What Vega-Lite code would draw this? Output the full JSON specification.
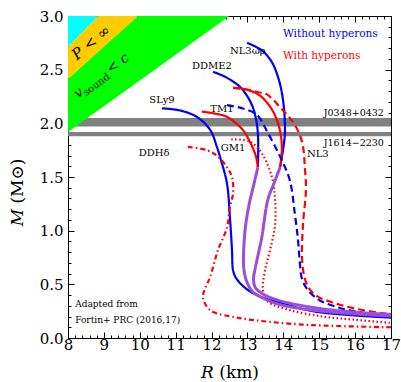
{
  "$schema": "https://vega.github.io/schema/vega-lite/v6.json",
  "width": 323,
  "height": 322,
  "autosize": {"type": "none"},
  "padding": {"left": 68, "top": 16, "right": 10, "bottom": 44},
  "background": "white",
  "config": {
    "font": "DejaVu Serif",
    "view": {"stroke": "black", "strokeWidth": 1},
    "axis": {"domainColor": "black", "tickColor": "black", "labelColor": "black", "titleColor": "black", "labelFont": "DejaVu Serif", "titleFont": "DejaVu Serif", "labelFontSize": 15, "titleFontSize": 17, "titleFontWeight": "normal", "grid": false, "labelOverlap": false, "labelFlush": false, "tickWidth": 1, "domainWidth": 1}
  },
  "resolve": {"axis": {"x": "independent", "y": "independent"}},
  "datasets": {
    "bands": [
      {"pulsar": "J0348+0432", "lo": 1.97, "hi": 2.05},
      {"pulsar": "J1614−2230", "lo": 1.88, "hi": 1.92}
    ],
    "limits": [
      {"region": "GR", "R": 8, "lo": 2.712, "hi": 3},
      {"region": "GR", "R": 8.85, "lo": 3, "hi": 3},
      {"region": "P", "R": 8, "lo": 2.412, "hi": 2.712},
      {"region": "P", "R": 8.85, "lo": 2.668, "hi": 3},
      {"region": "P", "R": 9.95, "lo": 3, "hi": 3},
      {"region": "causal", "R": 8, "lo": 1.92, "hi": 2.412},
      {"region": "causal", "R": 9.95, "lo": 2.388, "hi": 3},
      {"region": "causal", "R": 12.5, "lo": 3, "hi": 3}
    ],
    "curves": [
      {"curve": "SLy9", "eos": "SLy9", "type": "nucleonic", "i": 0, "R": 10.62, "M": 2.14},
      {"curve": "SLy9", "eos": "SLy9", "type": "nucleonic", "i": 1, "R": 11.12, "M": 2.12},
      {"curve": "SLy9", "eos": "SLy9", "type": "nucleonic", "i": 2, "R": 11.59, "M": 2.06},
      {"curve": "SLy9", "eos": "SLy9", "type": "nucleonic", "i": 3, "R": 11.96, "M": 1.94},
      {"curve": "SLy9", "eos": "SLy9", "type": "nucleonic", "i": 4, "R": 12.15, "M": 1.78},
      {"curve": "SLy9", "eos": "SLy9", "type": "nucleonic", "i": 5, "R": 12.26, "M": 1.66},
      {"curve": "SLy9", "eos": "SLy9", "type": "nucleonic", "i": 6, "R": 12.43, "M": 1.44},
      {"curve": "SLy9", "eos": "SLy9", "type": "nucleonic", "i": 7, "R": 12.51, "M": 1.13},
      {"curve": "SLy9", "eos": "SLy9", "type": "nucleonic", "i": 8, "R": 12.57, "M": 0.82},
      {"curve": "SLy9", "eos": "SLy9", "type": "nucleonic", "i": 9, "R": 12.6, "M": 0.63},
      {"curve": "SLy9", "eos": "SLy9", "type": "nucleonic", "i": 10, "R": 12.7, "M": 0.55},
      {"curve": "SLy9", "eos": "SLy9", "type": "nucleonic", "i": 11, "R": 13.0, "M": 0.45},
      {"curve": "SLy9", "eos": "SLy9", "type": "nucleonic", "i": 12, "R": 13.4, "M": 0.38},
      {"curve": "SLy9", "eos": "SLy9", "type": "nucleonic", "i": 13, "R": 13.91, "M": 0.33},
      {"curve": "SLy9", "eos": "SLy9", "type": "nucleonic", "i": 14, "R": 14.82, "M": 0.25},
      {"curve": "SLy9", "eos": "SLy9", "type": "nucleonic", "i": 15, "R": 16.0, "M": 0.21},
      {"curve": "SLy9", "eos": "SLy9", "type": "nucleonic", "i": 16, "R": 17.0, "M": 0.19},

      {"curve": "DDME2", "eos": "DDME2", "type": "nucleonic", "i": 0, "R": 12.04, "M": 2.48},
      {"curve": "DDME2", "eos": "DDME2", "type": "nucleonic", "i": 1, "R": 12.4, "M": 2.43},
      {"curve": "DDME2", "eos": "DDME2", "type": "nucleonic", "i": 2, "R": 12.79, "M": 2.34},
      {"curve": "DDME2", "eos": "DDME2", "type": "nucleonic", "i": 3, "R": 13.0, "M": 2.25},
      {"curve": "DDME2", "eos": "DDME2", "type": "nucleonic", "i": 4, "R": 13.15, "M": 2.15},
      {"curve": "DDME2", "eos": "DDME2", "type": "nucleonic", "i": 5, "R": 13.25, "M": 2.02},
      {"curve": "DDME2", "eos": "DDME2", "type": "nucleonic", "i": 6, "R": 13.29, "M": 1.91},
      {"curve": "DDME2", "eos": "DDME2", "type": "nucleonic", "i": 7, "R": 13.3, "M": 1.75},
      {"curve": "DDME2", "eos": "DDME2", "type": "nucleonic", "i": 8, "R": 13.29, "M": 1.59},

      {"curve": "DDME2Y", "eos": "DDME2", "type": "hyperonic", "i": 0, "R": 11.73, "M": 2.11},
      {"curve": "DDME2Y", "eos": "DDME2", "type": "hyperonic", "i": 1, "R": 12.1, "M": 2.09},
      {"curve": "DDME2Y", "eos": "DDME2", "type": "hyperonic", "i": 2, "R": 12.43, "M": 2.06},
      {"curve": "DDME2Y", "eos": "DDME2", "type": "hyperonic", "i": 3, "R": 12.87, "M": 1.94},
      {"curve": "DDME2Y", "eos": "DDME2", "type": "hyperonic", "i": 4, "R": 13.05, "M": 1.84},
      {"curve": "DDME2Y", "eos": "DDME2", "type": "hyperonic", "i": 5, "R": 13.21, "M": 1.72},
      {"curve": "DDME2Y", "eos": "DDME2", "type": "hyperonic", "i": 6, "R": 13.27, "M": 1.64},
      {"curve": "DDME2Y", "eos": "DDME2", "type": "hyperonic", "i": 7, "R": 13.29, "M": 1.59},

      {"curve": "DDME2 both", "eos": "DDME2", "type": "both", "i": 0, "R": 13.29, "M": 1.59},
      {"curve": "DDME2 both", "eos": "DDME2", "type": "both", "i": 1, "R": 13.17, "M": 1.42},
      {"curve": "DDME2 both", "eos": "DDME2", "type": "both", "i": 2, "R": 13.05, "M": 1.25},
      {"curve": "DDME2 both", "eos": "DDME2", "type": "both", "i": 3, "R": 12.95, "M": 1.05},
      {"curve": "DDME2 both", "eos": "DDME2", "type": "both", "i": 4, "R": 12.9, "M": 0.85},
      {"curve": "DDME2 both", "eos": "DDME2", "type": "both", "i": 5, "R": 12.89, "M": 0.7},
      {"curve": "DDME2 both", "eos": "DDME2", "type": "both", "i": 6, "R": 12.92, "M": 0.6},
      {"curve": "DDME2 both", "eos": "DDME2", "type": "both", "i": 7, "R": 13.0, "M": 0.51},
      {"curve": "DDME2 both", "eos": "DDME2", "type": "both", "i": 8, "R": 13.15, "M": 0.43},
      {"curve": "DDME2 both", "eos": "DDME2", "type": "both", "i": 9, "R": 13.45, "M": 0.37},
      {"curve": "DDME2 both", "eos": "DDME2", "type": "both", "i": 10, "R": 13.91, "M": 0.31},
      {"curve": "DDME2 both", "eos": "DDME2", "type": "both", "i": 11, "R": 14.82, "M": 0.26},
      {"curve": "DDME2 both", "eos": "DDME2", "type": "both", "i": 12, "R": 16.0, "M": 0.225},
      {"curve": "DDME2 both", "eos": "DDME2", "type": "both", "i": 13, "R": 17.0, "M": 0.205},

      {"curve": "NL3ωρ", "eos": "NL3ωρ", "type": "nucleonic", "i": 0, "R": 12.99, "M": 2.75},
      {"curve": "NL3ωρ", "eos": "NL3ωρ", "type": "nucleonic", "i": 1, "R": 13.4, "M": 2.68},
      {"curve": "NL3ωρ", "eos": "NL3ωρ", "type": "nucleonic", "i": 2, "R": 13.68, "M": 2.57},
      {"curve": "NL3ωρ", "eos": "NL3ωρ", "type": "nucleonic", "i": 3, "R": 13.88, "M": 2.4},
      {"curve": "NL3ωρ", "eos": "NL3ωρ", "type": "nucleonic", "i": 4, "R": 13.99, "M": 2.22},
      {"curve": "NL3ωρ", "eos": "NL3ωρ", "type": "nucleonic", "i": 5, "R": 14.04, "M": 2.03},
      {"curve": "NL3ωρ", "eos": "NL3ωρ", "type": "nucleonic", "i": 6, "R": 14.04, "M": 1.89},
      {"curve": "NL3ωρ", "eos": "NL3ωρ", "type": "nucleonic", "i": 7, "R": 13.99, "M": 1.75},
      {"curve": "NL3ωρ", "eos": "NL3ωρ", "type": "nucleonic", "i": 8, "R": 13.91, "M": 1.59},

      {"curve": "NL3ωρY", "eos": "NL3ωρ", "type": "hyperonic", "i": 0, "R": 12.6, "M": 2.33},
      {"curve": "NL3ωρY", "eos": "NL3ωρ", "type": "hyperonic", "i": 1, "R": 12.9, "M": 2.32},
      {"curve": "NL3ωρY", "eos": "NL3ωρ", "type": "hyperonic", "i": 2, "R": 13.3, "M": 2.27},
      {"curve": "NL3ωρY", "eos": "NL3ωρ", "type": "hyperonic", "i": 3, "R": 13.6, "M": 2.17},
      {"curve": "NL3ωρY", "eos": "NL3ωρ", "type": "hyperonic", "i": 4, "R": 13.8, "M": 2.05},
      {"curve": "NL3ωρY", "eos": "NL3ωρ", "type": "hyperonic", "i": 5, "R": 13.92, "M": 1.91},
      {"curve": "NL3ωρY", "eos": "NL3ωρ", "type": "hyperonic", "i": 6, "R": 13.96, "M": 1.76},
      {"curve": "NL3ωρY", "eos": "NL3ωρ", "type": "hyperonic", "i": 7, "R": 13.91, "M": 1.59},

      {"curve": "NL3ωρ both", "eos": "NL3ωρ", "type": "both", "i": 0, "R": 13.91, "M": 1.59},
      {"curve": "NL3ωρ both", "eos": "NL3ωρ", "type": "both", "i": 1, "R": 13.75, "M": 1.45},
      {"curve": "NL3ωρ both", "eos": "NL3ωρ", "type": "both", "i": 2, "R": 13.57, "M": 1.29},
      {"curve": "NL3ωρ both", "eos": "NL3ωρ", "type": "both", "i": 3, "R": 13.4, "M": 0.94},
      {"curve": "NL3ωρ both", "eos": "NL3ωρ", "type": "both", "i": 4, "R": 13.28, "M": 0.75},
      {"curve": "NL3ωρ both", "eos": "NL3ωρ", "type": "both", "i": 5, "R": 13.21, "M": 0.64},
      {"curve": "NL3ωρ both", "eos": "NL3ωρ", "type": "both", "i": 6, "R": 13.17, "M": 0.55},
      {"curve": "NL3ωρ both", "eos": "NL3ωρ", "type": "both", "i": 7, "R": 13.22, "M": 0.47},
      {"curve": "NL3ωρ both", "eos": "NL3ωρ", "type": "both", "i": 8, "R": 13.43, "M": 0.41},
      {"curve": "NL3ωρ both", "eos": "NL3ωρ", "type": "both", "i": 9, "R": 13.7, "M": 0.37},
      {"curve": "NL3ωρ both", "eos": "NL3ωρ", "type": "both", "i": 10, "R": 14.1, "M": 0.33},
      {"curve": "NL3ωρ both", "eos": "NL3ωρ", "type": "both", "i": 11, "R": 15.02, "M": 0.275},
      {"curve": "NL3ωρ both", "eos": "NL3ωρ", "type": "both", "i": 12, "R": 16.0, "M": 0.24},
      {"curve": "NL3ωρ both", "eos": "NL3ωρ", "type": "both", "i": 13, "R": 17.0, "M": 0.22},

      {"curve": "TM1", "eos": "TM1", "type": "nucleonic", "i": 0, "R": 12.43, "M": 2.17},
      {"curve": "TM1", "eos": "TM1", "type": "nucleonic", "i": 1, "R": 12.85, "M": 2.14},
      {"curve": "TM1", "eos": "TM1", "type": "nucleonic", "i": 2, "R": 13.26, "M": 2.08},
      {"curve": "TM1", "eos": "TM1", "type": "nucleonic", "i": 3, "R": 13.57, "M": 1.91},
      {"curve": "TM1", "eos": "TM1", "type": "nucleonic", "i": 4, "R": 13.91, "M": 1.69},
      {"curve": "TM1", "eos": "TM1", "type": "nucleonic", "i": 5, "R": 14.18, "M": 1.47},
      {"curve": "TM1", "eos": "TM1", "type": "nucleonic", "i": 6, "R": 14.32, "M": 1.16},
      {"curve": "TM1", "eos": "TM1", "type": "nucleonic", "i": 7, "R": 14.41, "M": 0.91},
      {"curve": "TM1", "eos": "TM1", "type": "nucleonic", "i": 8, "R": 14.46, "M": 0.7},
      {"curve": "TM1", "eos": "TM1", "type": "nucleonic", "i": 9, "R": 14.52, "M": 0.55},
      {"curve": "TM1", "eos": "TM1", "type": "nucleonic", "i": 10, "R": 14.7, "M": 0.44},
      {"curve": "TM1", "eos": "TM1", "type": "nucleonic", "i": 11, "R": 15.02, "M": 0.35},
      {"curve": "TM1", "eos": "TM1", "type": "nucleonic", "i": 12, "R": 15.58, "M": 0.28},
      {"curve": "TM1", "eos": "TM1", "type": "nucleonic", "i": 13, "R": 16.33, "M": 0.23},
      {"curve": "TM1", "eos": "TM1", "type": "nucleonic", "i": 14, "R": 17.0, "M": 0.205},

      {"curve": "NL3Y", "eos": "NL3", "type": "hyperonic", "i": 0, "R": 12.6, "M": 2.33},
      {"curve": "NL3Y", "eos": "NL3", "type": "hyperonic", "i": 1, "R": 12.9, "M": 2.32},
      {"curve": "NL3Y", "eos": "NL3", "type": "hyperonic", "i": 2, "R": 13.3, "M": 2.29},
      {"curve": "NL3Y", "eos": "NL3", "type": "hyperonic", "i": 3, "R": 13.54, "M": 2.27},
      {"curve": "NL3Y", "eos": "NL3", "type": "hyperonic", "i": 4, "R": 13.91, "M": 2.15},
      {"curve": "NL3Y", "eos": "NL3", "type": "hyperonic", "i": 5, "R": 14.25, "M": 2.02},
      {"curve": "NL3Y", "eos": "NL3", "type": "hyperonic", "i": 6, "R": 14.45, "M": 1.9},
      {"curve": "NL3Y", "eos": "NL3", "type": "hyperonic", "i": 7, "R": 14.55, "M": 1.78},
      {"curve": "NL3Y", "eos": "NL3", "type": "hyperonic", "i": 8, "R": 14.6, "M": 1.59},
      {"curve": "NL3Y", "eos": "NL3", "type": "hyperonic", "i": 9, "R": 14.63, "M": 1.38},
      {"curve": "NL3Y", "eos": "NL3", "type": "hyperonic", "i": 10, "R": 14.55, "M": 1.07},
      {"curve": "NL3Y", "eos": "NL3", "type": "hyperonic", "i": 11, "R": 14.52, "M": 0.75},
      {"curve": "NL3Y", "eos": "NL3", "type": "hyperonic", "i": 12, "R": 14.58, "M": 0.58},
      {"curve": "NL3Y", "eos": "NL3", "type": "hyperonic", "i": 13, "R": 14.7, "M": 0.47},
      {"curve": "NL3Y", "eos": "NL3", "type": "hyperonic", "i": 14, "R": 14.94, "M": 0.39},
      {"curve": "NL3Y", "eos": "NL3", "type": "hyperonic", "i": 15, "R": 15.38, "M": 0.33},
      {"curve": "NL3Y", "eos": "NL3", "type": "hyperonic", "i": 16, "R": 16.05, "M": 0.27},
      {"curve": "NL3Y", "eos": "NL3", "type": "hyperonic", "i": 17, "R": 17.0, "M": 0.22},

      {"curve": "GM1Y", "eos": "GM1", "type": "hyperonic", "i": 0, "R": 12.55, "M": 1.85},
      {"curve": "GM1Y", "eos": "GM1", "type": "hyperonic", "i": 1, "R": 13.07, "M": 1.83},
      {"curve": "GM1Y", "eos": "GM1", "type": "hyperonic", "i": 2, "R": 13.4, "M": 1.72},
      {"curve": "GM1Y", "eos": "GM1", "type": "hyperonic", "i": 3, "R": 13.68, "M": 1.5},
      {"curve": "GM1Y", "eos": "GM1", "type": "hyperonic", "i": 4, "R": 13.77, "M": 1.29},
      {"curve": "GM1Y", "eos": "GM1", "type": "hyperonic", "i": 5, "R": 13.77, "M": 1.05},
      {"curve": "GM1Y", "eos": "GM1", "type": "hyperonic", "i": 6, "R": 13.63, "M": 0.82},
      {"curve": "GM1Y", "eos": "GM1", "type": "hyperonic", "i": 7, "R": 13.49, "M": 0.63},
      {"curve": "GM1Y", "eos": "GM1", "type": "hyperonic", "i": 8, "R": 13.43, "M": 0.45},
      {"curve": "GM1Y", "eos": "GM1", "type": "hyperonic", "i": 9, "R": 13.57, "M": 0.34},
      {"curve": "GM1Y", "eos": "GM1", "type": "hyperonic", "i": 10, "R": 14.18, "M": 0.26},
      {"curve": "GM1Y", "eos": "GM1", "type": "hyperonic", "i": 11, "R": 15.1, "M": 0.2},
      {"curve": "GM1Y", "eos": "GM1", "type": "hyperonic", "i": 12, "R": 16.0, "M": 0.17},
      {"curve": "GM1Y", "eos": "GM1", "type": "hyperonic", "i": 13, "R": 17.0, "M": 0.14},

      {"curve": "DDHδY", "eos": "DDHδ", "type": "hyperonic", "i": 0, "R": 11.34, "M": 1.78},
      {"curve": "DDHδY", "eos": "DDHδ", "type": "hyperonic", "i": 1, "R": 11.87, "M": 1.75},
      {"curve": "DDHδY", "eos": "DDHδ", "type": "hyperonic", "i": 2, "R": 12.18, "M": 1.69},
      {"curve": "DDHδY", "eos": "DDHδ", "type": "hyperonic", "i": 3, "R": 12.43, "M": 1.59},
      {"curve": "DDHδY", "eos": "DDHδ", "type": "hyperonic", "i": 4, "R": 12.57, "M": 1.5},
      {"curve": "DDHδY", "eos": "DDHδ", "type": "hyperonic", "i": 5, "R": 12.6, "M": 1.35},
      {"curve": "DDHδY", "eos": "DDHδ", "type": "hyperonic", "i": 6, "R": 12.51, "M": 1.22},
      {"curve": "DDHδY", "eos": "DDHδ", "type": "hyperonic", "i": 7, "R": 12.43, "M": 1.03},
      {"curve": "DDHδY", "eos": "DDHδ", "type": "hyperonic", "i": 8, "R": 12.18, "M": 0.82},
      {"curve": "DDHδY", "eos": "DDHδ", "type": "hyperonic", "i": 9, "R": 11.96, "M": 0.57},
      {"curve": "DDHδY", "eos": "DDHδ", "type": "hyperonic", "i": 10, "R": 11.82, "M": 0.46},
      {"curve": "DDHδY", "eos": "DDHδ", "type": "hyperonic", "i": 11, "R": 11.76, "M": 0.38},
      {"curve": "DDHδY", "eos": "DDHδ", "type": "hyperonic", "i": 12, "R": 11.96, "M": 0.26},
      {"curve": "DDHδY", "eos": "DDHδ", "type": "hyperonic", "i": 13, "R": 12.71, "M": 0.19},
      {"curve": "DDHδY", "eos": "DDHδ", "type": "hyperonic", "i": 14, "R": 13.63, "M": 0.15},
      {"curve": "DDHδY", "eos": "DDHδ", "type": "hyperonic", "i": 15, "R": 14.82, "M": 0.12},
      {"curve": "DDHδY", "eos": "DDHδ", "type": "hyperonic", "i": 16, "R": 17.0, "M": 0.1}
    ],
    "labels": [
      {"label": "SLy9", "R": 10.62, "M": 2.22},
      {"label": "DDME2", "R": 12.01, "M": 2.53},
      {"label": "TM1", "R": 12.29, "M": 2.13},
      {"label": "NL3ωρ", "R": 13.01, "M": 2.67},
      {"label": "DDHδ", "R": 10.4, "M": 1.72},
      {"label": "GM1", "R": 12.6, "M": 1.77},
      {"label": "NL3", "R": 14.96, "M": 1.71}
    ],
    "legend": [
      {"label": "Without hyperons", "type": "nucleonic", "R": 13.99, "M": 2.83},
      {"label": "With hyperons", "type": "hyperonic", "R": 13.99, "M": 2.63}
    ],
    "pulsars": [
      {"label": "J0348+0432", "R": 16.8, "M": 2.1},
      {"label": "J1614−2230", "R": 16.8, "M": 1.82}
    ],
    "credit": [
      {"label": "Adapted from", "R": 8.2, "M": 0.32},
      {"label": "Fortin+ PRC (2016,17)", "R": 8.2, "M": 0.17}
    ],
    "one": [{}]
  },
  "layer": [
    {
      "data": {"name": "bands"},
      "mark": {"type": "rect", "color": "#808080"},
      "encoding": {
        "x": {"datum": 8, "type": "quantitative", "scale": {"domain": [8, 17], "nice": false, "zero": false}, "axis": null},
        "x2": {"datum": 17},
        "y": {"field": "lo", "type": "quantitative", "scale": {"domain": [0, 3], "nice": false, "zero": false}, "axis": null},
        "y2": {"field": "hi"}
      }
    },
    {
      "data": {"name": "limits"},
      "mark": {"type": "area", "opacity": 1},
      "encoding": {
        "x": {"field": "R", "type": "quantitative", "scale": {"domain": [8, 17], "nice": false, "zero": false},
          "axis": {"orient": "top", "labels": false, "title": null,
            "values": [8,8.2,8.4,8.6,8.8,9,9.2,9.4,9.6,9.8,10,10.2,10.4,10.6,10.8,11,11.2,11.4,11.6,11.8,12,12.2,12.4,12.6,12.8,13,13.2,13.4,13.6,13.8,14,14.2,14.4,14.6,14.8,15,15.2,15.4,15.6,15.8,16,16.2,16.4,16.6,16.8,17],
            "tickSize": {"condition": {"test": "abs(datum.value-round(datum.value))<0.001", "value": -6}, "value": -3}}},
        "y": {"field": "lo", "type": "quantitative", "stack": null, "scale": {"domain": [0, 3], "nice": false, "zero": false},
          "axis": {"orient": "right", "labels": false, "title": null,
            "values": [0,0.1,0.2,0.3,0.4,0.5,0.6,0.7,0.8,0.9,1,1.1,1.2,1.3,1.4,1.5,1.6,1.7,1.8,1.9,2,2.1,2.2,2.3,2.4,2.5,2.6,2.7,2.8,2.9,3],
            "tickSize": {"condition": {"test": "abs(datum.value*2-round(datum.value*2))<0.001", "value": -6}, "value": -3}}},
        "y2": {"field": "hi"},
        "fill": {"field": "region", "type": "nominal", "legend": null,
          "scale": {"domain": ["GR", "P", "causal"], "range": ["#00ffff", "#ffcc00", "#00ff00"]}}
      }
    },
    {
      "data": {"name": "one"},
      "mark": {"type": "text", "text": "𝑃 < ∞", "font": "DejaVu Serif", "fontSize": 15, "angle": -40, "align": "center", "baseline": "middle", "fill": "black"},
      "encoding": {
        "x": {"datum": 8.64, "type": "quantitative", "axis": null},
        "y": {"datum": 2.754, "type": "quantitative", "axis": null}
      }
    },
    {
      "data": {"name": "one"},
      "mark": {"type": "text", "text": "𝑣", "font": "DejaVu Serif", "fontSize": 14, "angle": -37, "align": "left", "baseline": "alphabetic", "fill": "black"},
      "encoding": {
        "x": {"datum": 8.28, "type": "quantitative", "axis": null},
        "y": {"datum": 2.23, "type": "quantitative", "axis": null}
      }
    },
    {
      "data": {"name": "one"},
      "mark": {"type": "text", "text": "sound", "font": "DejaVu Serif", "fontSize": 10, "angle": -37, "align": "left", "baseline": "alphabetic", "dx": 8, "dy": 3, "fill": "black"},
      "encoding": {
        "x": {"datum": 8.28, "type": "quantitative", "axis": null},
        "y": {"datum": 2.23, "type": "quantitative", "axis": null}
      }
    },
    {
      "data": {"name": "one"},
      "mark": {"type": "text", "text": "< 𝑐", "font": "DejaVu Serif", "fontSize": 14, "angle": -37, "align": "left", "baseline": "alphabetic", "dx": 41, "fill": "black"},
      "encoding": {
        "x": {"datum": 8.28, "type": "quantitative", "axis": null},
        "y": {"datum": 2.23, "type": "quantitative", "axis": null}
      }
    },
    {
      "data": {"name": "curves"},
      "transform": [{"filter": "datum.type != 'both'"}],
      "mark": {"type": "line", "strokeWidth": 2.2, "interpolate": "catmull-rom", "clip": true, "strokeCap": "butt"},
      "encoding": {
        "x": {"field": "R", "type": "quantitative", "scale": {"domain": [8, 17], "nice": false, "zero": false},
          "axis": {"orient": "bottom", "title": "𝑅 (km)", "labelPadding": 5, "titlePadding": 9,
            "values": [8,8.2,8.4,8.6,8.8,9,9.2,9.4,9.6,9.8,10,10.2,10.4,10.6,10.8,11,11.2,11.4,11.6,11.8,12,12.2,12.4,12.6,12.8,13,13.2,13.4,13.6,13.8,14,14.2,14.4,14.6,14.8,15,15.2,15.4,15.6,15.8,16,16.2,16.4,16.6,16.8,17],
            "labelExpr": "abs(datum.value-round(datum.value))<0.001 ? format(datum.value,'d') : ''",
            "tickSize": {"condition": {"test": "abs(datum.value-round(datum.value))<0.001", "value": -6}, "value": -3}}},
        "y": {"field": "M", "type": "quantitative", "scale": {"domain": [0, 3], "nice": false, "zero": false},
          "axis": {"orient": "left", "title": "𝑀 (M⊙)", "labelPadding": 11, "titlePadding": 13, "titleY": 176,
            "values": [0,0.1,0.2,0.3,0.4,0.5,0.6,0.7,0.8,0.9,1,1.1,1.2,1.3,1.4,1.5,1.6,1.7,1.8,1.9,2,2.1,2.2,2.3,2.4,2.5,2.6,2.7,2.8,2.9,3],
            "labelExpr": "abs(datum.value*2-round(datum.value*2))<0.001 ? format(datum.value,'.1f') : ''",
            "tickSize": {"condition": {"test": "abs(datum.value*2-round(datum.value*2))<0.001", "value": -6}, "value": -3}}},
        "detail": {"field": "curve"},
        "order": {"field": "i", "type": "quantitative"},
        "color": {"field": "type", "type": "nominal", "legend": null,
          "scale": {"domain": ["nucleonic", "hyperonic", "both"], "range": ["#0000ff", "#ff0000", "#9a4fd6"]}},
        "strokeDash": {"field": "eos", "type": "nominal", "legend": null,
          "scale": {"domain": ["SLy9", "DDME2", "NL3ωρ", "TM1", "NL3", "GM1", "DDHδ"],
            "range": [[1, 0], [1, 0], [1, 0], [7, 4], [7, 4], [1.5, 2.5], [5, 3, 1.5, 3]]}}
      }
    },
    {
      "data": {"name": "curves"},
      "transform": [{"filter": "datum.type == 'both'"}],
      "mark": {"type": "line", "strokeWidth": 3, "interpolate": "catmull-rom", "clip": true},
      "encoding": {
        "x": {"field": "R", "type": "quantitative", "axis": null},
        "y": {"field": "M", "type": "quantitative", "axis": null},
        "detail": {"field": "curve"},
        "order": {"field": "i", "type": "quantitative"},
        "color": {"field": "type", "type": "nominal", "legend": null},
        "strokeDash": {"field": "eos", "type": "nominal", "legend": null}
      }
    },
    {
      "data": {"name": "labels"},
      "mark": {"type": "text", "font": "DejaVu Serif", "fontSize": 10, "align": "center", "baseline": "middle", "fill": "black"},
      "encoding": {
        "x": {"field": "R", "type": "quantitative", "axis": null},
        "y": {"field": "M", "type": "quantitative", "axis": null},
        "text": {"field": "label"}
      }
    },
    {
      "data": {"name": "pulsars"},
      "mark": {"type": "text", "font": "DejaVu Serif", "fontSize": 9.5, "align": "right", "baseline": "middle", "fill": "black"},
      "encoding": {
        "x": {"field": "R", "type": "quantitative", "axis": null},
        "y": {"field": "M", "type": "quantitative", "axis": null},
        "text": {"field": "label"}
      }
    },
    {
      "data": {"name": "legend"},
      "mark": {"type": "text", "font": "DejaVu Serif", "fontSize": 10.5, "align": "left", "baseline": "middle"},
      "encoding": {
        "x": {"field": "R", "type": "quantitative", "axis": null},
        "y": {"field": "M", "type": "quantitative", "axis": null},
        "text": {"field": "label"},
        "color": {"field": "type", "type": "nominal", "legend": null}
      }
    },
    {
      "data": {"name": "credit"},
      "mark": {"type": "text", "font": "DejaVu Serif", "fontSize": 9, "align": "left", "baseline": "middle", "fill": "black"},
      "encoding": {
        "x": {"field": "R", "type": "quantitative", "axis": null},
        "y": {"field": "M", "type": "quantitative", "axis": null},
        "text": {"field": "label"}
      }
    }
  ]
}
